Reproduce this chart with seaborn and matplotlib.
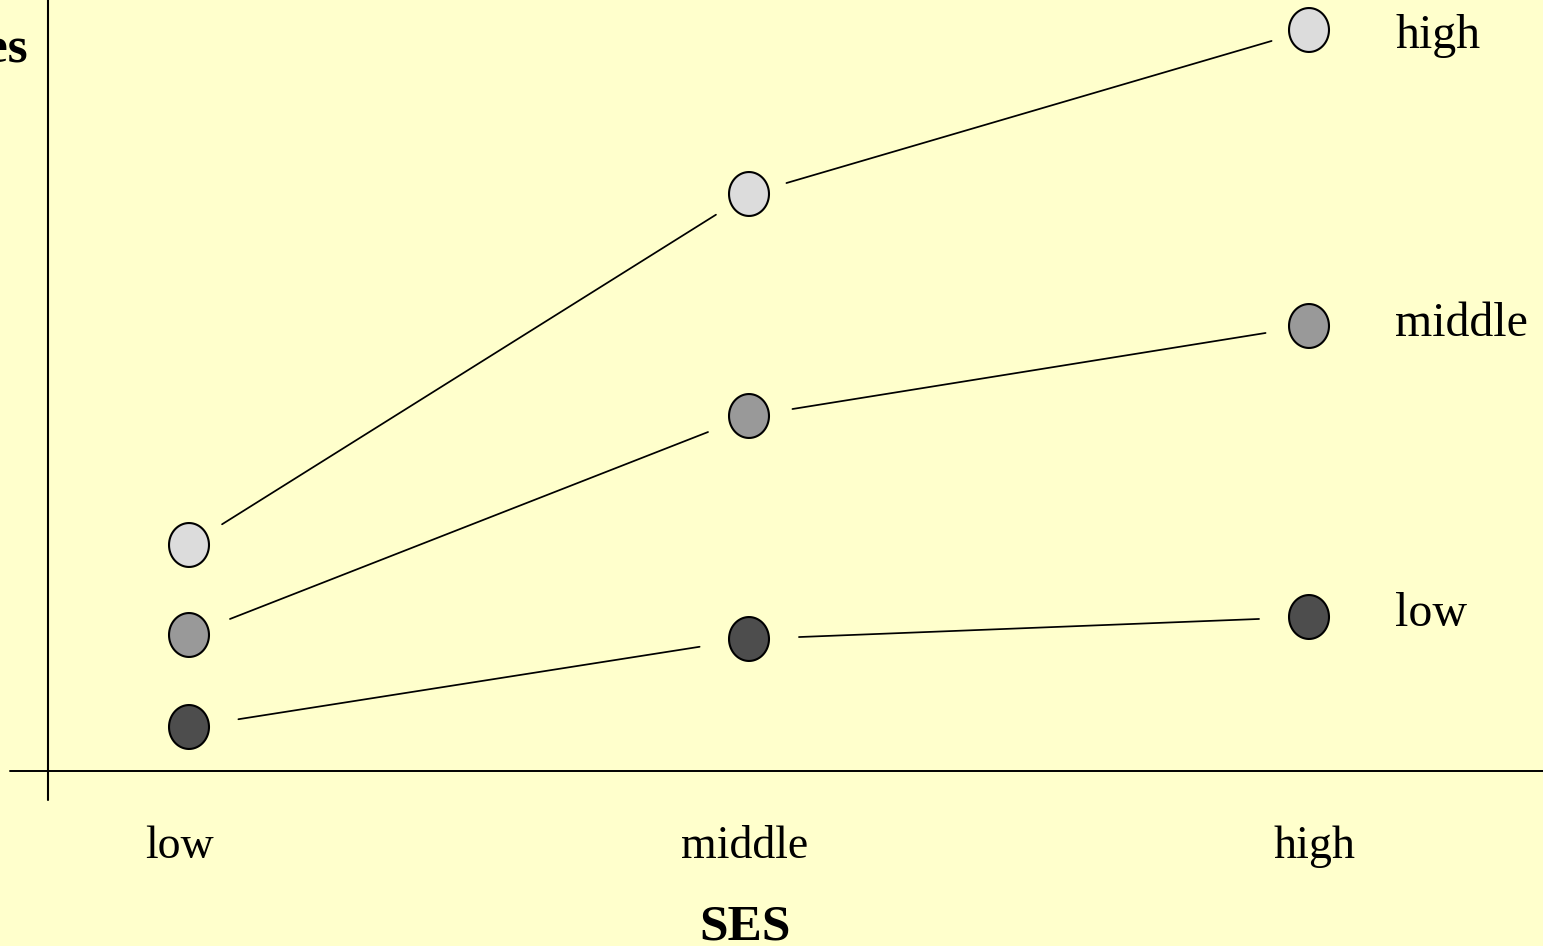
import numpy as np
import pandas as pd
import matplotlib
matplotlib.use("Agg")
import matplotlib.pyplot as plt
from matplotlib.path import Path
import seaborn as sns

# SES categories on the x axis
ses_levels = ["low", "middle", "high"]
# Group labels (one line per group)
groups = ["high", "middle", "low"]
# Outcome values for each group across SES levels
high_vals = [22.6, 57.7, 74.1]
middle_vals = [13.6, 35.5, 44.5]
low_vals = [4.4, 13.2, 15.4]

x_label = "SES"
y_label = "Grades"

fill_colors = {"high": "#DCDCDC", "middle": "#999999", "low": "#4D4D4D"}
gap_px = {"high": 39, "middle": 44, "low": 50}
label_drop_px = {"high": 18, "middle": 10, "low": 9}
tick_shift_px = [-10, -4, 6]
bg = "#FFFFCC"

records = []
for g, vals in zip(groups, [high_vals, middle_vals, low_vals]):
    for i, v in enumerate(vals):
        records.append({"ses": i, "score": v, "group": g})
df = pd.DataFrame(records)

sns.set_theme(style="white")
plt.rcParams["font.family"] = ["Liberation Serif", "DejaVu Serif"]
plt.rcParams["text.color"] = "black"

W, H, DPI = 1543, 946, 100
fig = plt.figure(figsize=(W / DPI, H / DPI), dpi=DPI, facecolor=bg)
ax = fig.add_axes([0, 0, 1, 1])
ax.set_facecolor(bg)

# pixel layout: x=0 at 189px, 560px per category; y=0 at 771px from top, 10px per unit
x0_px, dx_px = 189, 560
y0_px, dy_px = 771, 10
ax.set_xlim((0 - x0_px) / dx_px, (W - x0_px) / dx_px)
ax.set_ylim((y0_px - H) / dy_px, y0_px / dy_px)
ax.axis("off")

# axes lines
ax.axhline(0, xmin=10 / W, xmax=1.0, color="black", lw=1.4)
ax.axvline((48 - x0_px) / dx_px, ymin=(H - 800) / H, ymax=1.0, color="black", lw=1.5)

# connecting segments, shortened so they stop short of the circles
for g, vals in zip(groups, [high_vals, middle_vals, low_vals]):
    gap_pt = gap_px[g] * 72 / DPI
    for i in range(len(vals) - 1):
        ax.annotate("", xy=(i + 1, vals[i + 1]), xytext=(i, vals[i]),
                    arrowprops=dict(arrowstyle="-", color="black", lw=1.25,
                                    shrinkA=gap_pt, shrinkB=gap_pt))

# slightly tall elliptical marker
t = np.linspace(0, 2 * np.pi, 80)
ell = Path(np.column_stack([0.91 * np.cos(t), np.sin(t)]), closed=True)

sns.scatterplot(data=df, x="ses", y="score", hue="group", palette=fill_colors,
                marker=ell, s=1000, edgecolor="black", linewidth=1.5,
                legend=False, ax=ax, zorder=3)

# group labels at the right end of each line
for g, vals in zip(groups, [high_vals, middle_vals, low_vals]):
    ax.annotate(g, xy=(2, vals[-1]), xytext=(1395 - (x0_px + 2 * dx_px), -label_drop_px[g]),
                textcoords="offset pixels", fontsize=34.5, va="baseline", ha="left",
                color="black")

# category tick labels
for i, lab in enumerate(ses_levels):
    ax.annotate(lab, xy=(i, 0), xytext=(tick_shift_px[i], -(858 - y0_px)),
                textcoords="offset pixels", fontsize=33, ha="center", va="baseline",
                color="black")

ax.text(745 / W, 1 - 939 / H, x_label, transform=ax.transAxes, fontsize=37,
        fontweight="bold", ha="center", va="baseline", color="black")
ax.text(28 / W, 1 - 61 / H, y_label, transform=ax.transAxes, fontsize=37,
        fontweight="bold", ha="right", va="baseline", color="black")

fig.savefig("out.png", dpi=DPI, facecolor=bg)
